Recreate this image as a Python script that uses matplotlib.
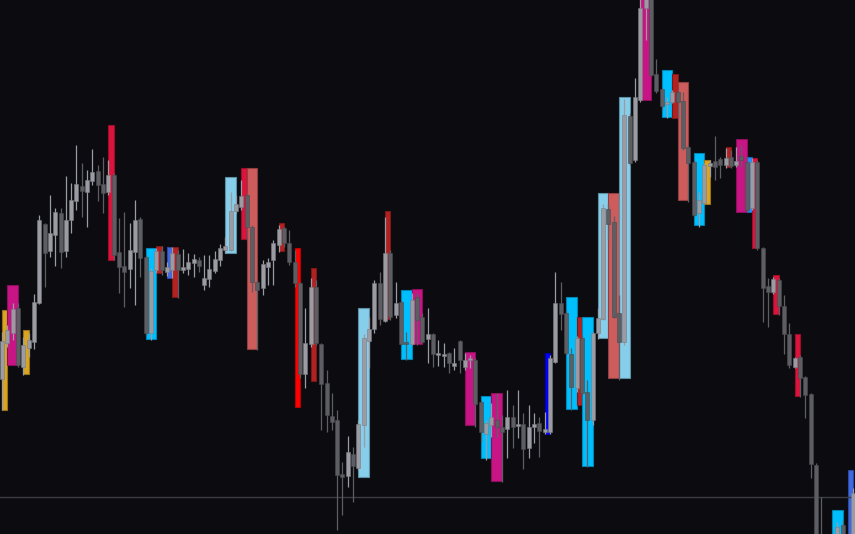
import matplotlib
matplotlib.use("Agg")
import matplotlib.pyplot as plt
from matplotlib.patches import Rectangle
from matplotlib.colors import to_rgb

# candle data, oldest first (price units, chart scale)
opens = [155, 191, 201, 226, 167, 186, 192, 231, 310, 283,
         299, 321, 283, 314, 333, 348, 342, 353, 363, 350,
         342, 359, 282, 268, 265, 282, 315, 277, 201, 264,
         283, 262, 264, 280, 264, 265, 271, 274, 249, 255,
         263, 274, 284, 284, 323, 327, 339, 307, 252, 246,
         267, 274, 289, 306, 291, 272, 251, 160, 190, 247,
         190, 151, 118, 114, 60, 58, 80, 66, 109, 193,
         205, 251, 213, 281, 219, 232, 192, 190, 237, 217,
         195, 200, 179, 178, 181, 168, 193, 167, 174.5, 174,
         132, 100, 109, 114, 107, 105, 117, 108, 110, 86,
         107, 111, 102, 102, 172, 231, 221, 180, 146, 196,
         142, 114, 201, 215, 325, 312, 221, 192, 418, 374,
         434, 526, 539, 460, 445, 430, 432, 442, 433, 387,
         372, 321, 331, 368, 373, 375, 369, 377, 369, 378,
         372, 326, 372, 286, 248, 242, 254, 228, 200, 167,
         177, 157, 140, 69, -11, -56, -26, -26, 9, -36,
         -11]
highs = [202, 209, 231, 231, 197, 201, 240, 319, 311, 339,
         326, 326, 358, 351, 389, 371, 364, 385, 369, 377,
         374, 361, 316, 322, 311, 334, 317, 279, 266, 286,
         288, 272, 287, 284, 285, 281, 280, 277, 279, 279,
         283, 290, 297, 342, 339, 354, 341, 309, 254, 274,
         276, 294, 309, 307, 304, 284, 252, 226, 256, 254,
         191, 164, 141, 124, 72, 98, 87, 114, 200, 217,
         254, 262, 317, 284, 252, 234, 202, 241, 241, 221,
         226, 201, 194, 191, 182, 186, 194, 181, 179, 176,
         134, 114, 131, 141, 119, 144, 129, 144, 121, 129,
         121, 117, 122, 179, 262, 252, 224, 186, 198, 199,
         154, 202, 226, 330, 330, 318, 239, 435, 421, 456,
         539, 554, 544, 475, 446, 437, 444, 444, 442, 389,
         374, 342, 371, 374, 398, 377, 386, 384, 387, 389,
         377, 376, 374, 287, 256, 257, 256, 239, 211, 177,
         179, 158, 141, 71, 37, -11, -6, 12, 14, -1,
         46]
lows = [124, 187, 194, 167, 159, 177, 185, 230, 247, 277,
        268, 266, 277, 301, 324, 317, 307, 349, 333, 321,
        339, 274, 241, 227, 246, 229, 257, 198, 194, 261,
        259, 258, 256, 236, 261, 259, 257, 262, 244, 247,
        261, 268, 281, 283, 321, 324, 294, 242, 184, 239,
        249, 249, 282, 287, 269, 247, 156, 146, 187, 189,
        104, 102, 104, 4, 19, 47, 32, 64, 87, 166,
        201, 209, 212, 214, 216, 189, 174, 189, 189, 191,
        171, 167, 168, 167, 161, 164, 161, 164, 166, 107,
        92, 74, 97, 97, 52, 76, 86, 96, 65, 76,
        91, 77, 100, 100, 171, 204, 179, 124, 142, 139,
        67, 109, 195, 214, 294, 216, 154, 189, 369, 372,
        432, 494, 458, 441, 424, 416, 431, 416, 384, 332,
        317, 307, 330, 357, 354, 356, 366, 366, 367, 367,
        322, 324, 284, 212, 207, 240, 219, 180, 166, 166,
        137, 116, 56, -26, -46, -66, -46, -36, -36, -46,
        -16]
closes = [193, 204, 225, 169, 189, 194, 232, 314, 281, 301,
          322, 282, 314, 334, 350, 343, 354, 362, 349, 341,
          359, 279, 267, 262, 284, 314, 276, 201, 263, 283,
          264, 267, 281, 264, 267, 272, 275, 268, 256, 265,
          275, 286, 288, 323, 330, 338, 307, 252, 244, 270,
          272, 291, 305, 291, 272, 251, 160, 191, 247, 191,
          150, 119, 112, 59, 57, 82, 68, 110, 196, 205,
          251, 215, 281, 217, 231, 190, 190, 234, 214, 192,
          200, 180, 181, 180, 171, 171, 174, 174, 176, 130,
          102, 111, 117, 107, 102, 117, 107, 110, 85, 107,
          110, 103, 105, 176, 231, 220, 181, 147, 196, 141,
          114, 201, 216, 326, 310, 217, 192, 419, 371, 437,
          526, 544, 459, 443, 428, 432, 442, 432, 386, 371,
          319, 334, 369, 371, 367, 369, 376, 368, 373, 374,
          324, 372, 286, 246, 242, 255, 228, 200, 169, 176,
          156, 139, 70, -11, -36, -26, -11, 7, -21, -11,
          41]

# highlighted zones: first candle, last candle, top, bottom, colour
zone_start = [0, 1, 4, 20, 27, 29, 31, 32, 42, 45, 46, 52, 55, 58, 67, 72, 75, 77, 87, 90, 92,
              102, 106, 108, 109, 112, 114, 116, 120, 124, 126, 127, 130, 132, 136, 138, 140,
              141, 145, 149, 156, 159]
zone_end = [1, 3, 5, 21, 29, 30, 32, 33, 44, 46, 48, 53, 56, 59, 69, 73, 77, 79, 89, 92, 94,
            103, 108, 109, 111, 114, 116, 118, 122, 126, 127, 129, 132, 133, 137, 140, 141,
            142, 146, 150, 158, 160]
zone_top = [224, 249, 204, 409, 286, 288, 287, 287, 357, 366, 366, 311, 286, 266, 226, 323, 244,
            245, 182, 138, 141, 181, 237, 217, 217, 341, 341, 437, 554, 464, 460, 452, 381, 374,
            387, 395, 377, 376, 259, 200, 24, 64]
zone_bottom = [124, 169, 160, 274, 195, 261, 256, 237, 281, 295, 185, 283, 127, 153, 57, 215,
               175, 190, 109, 76, 53, 100, 125, 129, 68, 196, 156, 156, 434, 417, 416, 334, 309,
               330, 367, 322, 322, 286, 220, 138, -26, -26]
zone_color = ['#daa520', '#c71585', '#daa520', '#dc143c', '#00bfff', '#b22222', '#4169e1',
              '#b22222', '#87ceeb', '#dc143c', '#cd5c5c', '#b22222', '#ff0000', '#b22222',
              '#87ceeb', '#b22222', '#00bfff', '#c71585', '#c71585', '#00bfff', '#c71585',
              '#0000ff', '#00bfff', '#b22222', '#00bfff', '#87ceeb', '#cd5c5c', '#87ceeb',
              '#c71585', '#00bfff', '#b22222', '#cd5c5c', '#00bfff', '#daa520', '#b22222',
              '#c71585', '#1e90ff', '#dc143c', '#dc143c', '#dc143c', '#00bfff', '#4169e1']

last_line = 37

bg = '#0b0b10'
up_col = '#9a9ba3'
down_col = '#5d5e63'

fig = plt.figure(figsize=(8.55, 5.34), dpi=100)
fig.patch.set_facecolor(bg)
ax = fig.add_axes([0, 0, 1, 1])
ax.set_facecolor(bg)

# zones behind the candles
for a, b, t, bt, c in zip(zone_start, zone_end, zone_top, zone_bottom, zone_color):
    edge = tuple(v * 0.7 for v in to_rgb(c))
    ax.add_patch(Rectangle((a, bt), b - a, t - bt, facecolor=c, edgecolor=edge,
                           linewidth=0.8, zorder=1))

ax.axhline(last_line, color='#3c3d44', linewidth=1.0, zorder=2)

# candles
for i in range(len(opens)):
    o, h, l, c = opens[i], highs[i], lows[i], closes[i]
    col = up_col if c >= o else down_col
    ax.vlines(i, l, h, color=col, linewidth=0.9, zorder=3)
    lo = min(o, c)
    hgt = max(abs(c - o), 1.2)
    ax.bar(i, hgt, bottom=lo, width=0.75, color=col,
           edgecolor=tuple(v * 0.8 for v in to_rgb(col)), linewidth=0.4, zorder=4)

ax.set_xlim(-0.376, 160.34)
ax.set_ylim(0, 534)
ax.axis('off')

fig.savefig('out.png', dpi=100, facecolor=bg)
